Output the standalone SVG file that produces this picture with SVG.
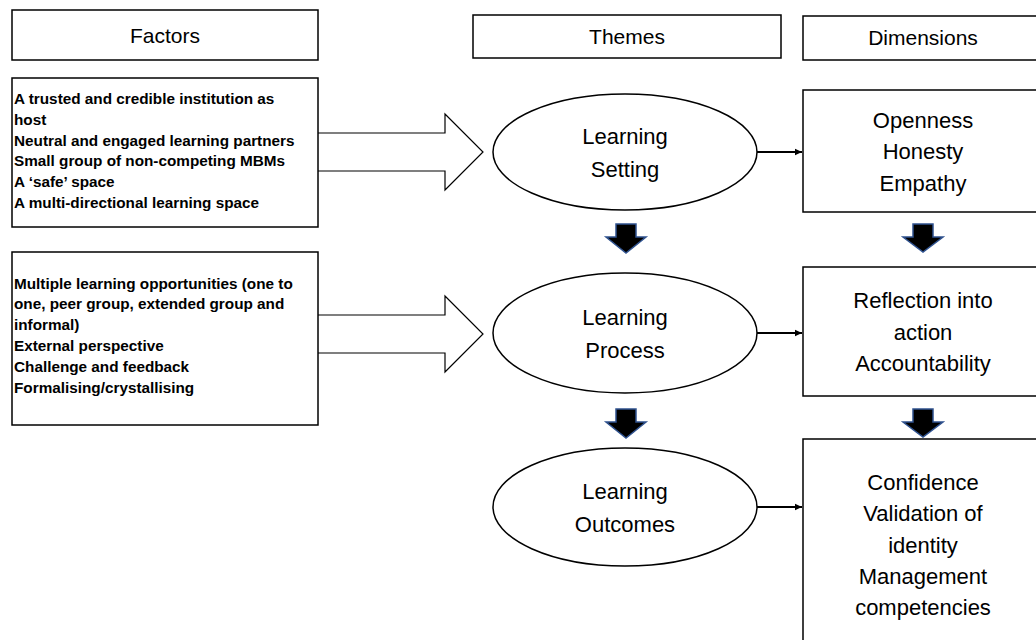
<svg xmlns="http://www.w3.org/2000/svg" width="1036" height="640" viewBox="0 0 1036 640">
  <style>
    .box { fill: #ffffff; stroke: #000000; stroke-width: 1.5; }
    .ell { fill: #ffffff; stroke: #000000; stroke-width: 1.5; }
    .big { fill: #ffffff; stroke: #000000; stroke-width: 1.2; }
    .down { fill: #000000; stroke: #2F528F; stroke-width: 1.5; stroke-linejoin: miter; }
    .conn { fill: none; stroke: #000000; stroke-width: 2; }
    .hdr { font-family: "Liberation Sans", Arial, sans-serif; font-size: 21px; fill: #000; text-anchor: middle; }
    .lbl { font-family: "Liberation Sans", Arial, sans-serif; font-size: 22px; fill: #000; text-anchor: middle; }
    .fac { font-family: "Liberation Sans", Arial, sans-serif; font-size: 15.3px; font-weight: bold; fill: #000; }
  </style>
  <defs>
    <marker id="ah" markerWidth="8" markerHeight="8" refX="7" refY="4" orient="auto" markerUnits="userSpaceOnUse">
      <path d="M0,0.8 L7,4 L0,7.2 Z" fill="#000"/>
    </marker>
  </defs>

  <g id="hdr-factors">
    <rect class="box" x="12" y="10" width="306" height="50"/>
    <text class="hdr" x="165" y="43">Factors</text>
  </g>
  <g id="hdr-themes">
    <rect class="box" x="473" y="15" width="308" height="43"/>
    <text class="hdr" x="627" y="44">Themes</text>
  </g>
  <g id="hdr-dimensions">
    <rect class="box" x="803" y="16" width="240" height="44"/>
    <text class="hdr" x="923" y="45">Dimensions</text>
  </g>

  <g id="big-arrows">
    <path class="big" d="M318,133 H445 V114 L483,152 L445,190 V171 H318"/>
    <path class="big" d="M318,315 H445 V296 L483,334 L445,372 V353 H318"/>
  </g>

  <g id="factors-1">
    <rect class="box" x="12" y="78" width="306" height="149"/>
    <text class="fac" x="14" y="104">A trusted and credible institution as</text>
    <text class="fac" x="14" y="125">host</text>
    <text class="fac" x="14" y="145.5">Neutral and engaged learning partners</text>
    <text class="fac" x="14" y="166">Small group of non-competing MBMs</text>
    <text class="fac" x="14" y="187">A ‘safe’ space</text>
    <text class="fac" x="14" y="207.5">A multi-directional learning space</text>
  </g>
  <g id="factors-2">
    <rect class="box" x="12" y="252" width="306" height="173"/>
    <text class="fac" x="14" y="288.5">Multiple learning opportunities (one to</text>
    <text class="fac" x="14" y="309.3">one, peer group, extended group and</text>
    <text class="fac" x="14" y="330">informal)</text>
    <text class="fac" x="14" y="351">External perspective</text>
    <text class="fac" x="14" y="372">Challenge and feedback</text>
    <text class="fac" x="14" y="392.5">Formalising/crystallising</text>
  </g>

  <g id="theme-setting">
    <ellipse class="ell" cx="625" cy="152" rx="132" ry="58"/>
    <text class="lbl" x="625" y="144">Learning</text>
    <text class="lbl" x="625" y="177">Setting</text>
  </g>
  <g id="theme-process">
    <ellipse class="ell" cx="625" cy="333" rx="132" ry="60"/>
    <text class="lbl" x="625" y="325">Learning</text>
    <text class="lbl" x="625" y="358">Process</text>
  </g>
  <g id="theme-outcomes">
    <ellipse class="ell" cx="625" cy="507" rx="132" ry="59"/>
    <text class="lbl" x="625" y="499">Learning</text>
    <text class="lbl" x="625" y="532">Outcomes</text>
  </g>

  <g id="dim-setting">
    <rect class="box" x="803" y="90" width="240" height="122"/>
    <text class="lbl" x="923" y="127.5">Openness</text>
    <text class="lbl" x="923" y="159">Honesty</text>
    <text class="lbl" x="923" y="190.5">Empathy</text>
  </g>
  <g id="dim-process">
    <rect class="box" x="803" y="267" width="240" height="129"/>
    <text class="lbl" x="923" y="308">Reflection into</text>
    <text class="lbl" x="923" y="339.5">action</text>
    <text class="lbl" x="923" y="371">Accountability</text>
  </g>
  <g id="dim-outcomes">
    <rect class="box" x="803" y="439" width="240" height="220"/>
    <text class="lbl" x="923" y="490">Confidence</text>
    <text class="lbl" x="923" y="521">Validation of</text>
    <text class="lbl" x="923" y="553">identity</text>
    <text class="lbl" x="923" y="584">Management</text>
    <text class="lbl" x="923" y="615">competencies</text>
  </g>

  <g id="connectors">
    <line class="conn" x1="757" y1="152" x2="802" y2="152" marker-end="url(#ah)"/>
    <line class="conn" x1="757" y1="333" x2="802" y2="333" marker-end="url(#ah)"/>
    <line class="conn" x1="757" y1="507" x2="802" y2="507" marker-end="url(#ah)"/>
    <path class="down" d="M616,224 H636 V237 H646 L626,253 L606,237 H616 Z"/>
    <path class="down" d="M913,224 H933 V237 H943 L923,252 L903,237 H913 Z"/>
    <path class="down" d="M616,409 H636 V422 H646 L626,438 L606,422 H616 Z"/>
    <path class="down" d="M913,409 H933 V422 H943 L923,437 L903,422 H913 Z"/>
  </g>
</svg>
